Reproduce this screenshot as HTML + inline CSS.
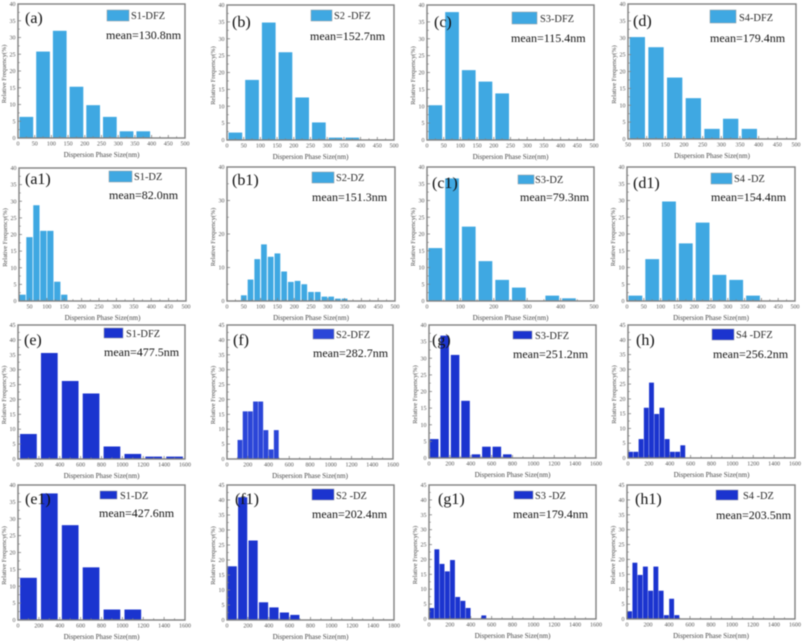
<!DOCTYPE html>
<html lang="en">
<head>
<meta charset="utf-8">
<title>Dispersion Phase Size Distributions</title>
<style>
html,body{margin:0;padding:0;background:#fff;}
#figure{display:block;width:802px;height:641px;filter:blur(0.5px);}
text{font-family:"Liberation Serif",serif;}
</style>
</head>
<body>
<svg id="figure" xmlns="http://www.w3.org/2000/svg" width="802" height="641" viewBox="0 0 802 641"></svg>
<script>
// ---- data: tick values ----
var ticks0to500 = [0,50,100,150,200,250,300,350,400,450,500];
var ticks50to500 = [50,100,150,200,250,300,350,400,450,500];
var ticksHundreds = [0,100,200,300,400,500];
var ticks0to1600 = [0,200,400,600,800,1000,1200,1400,1600];
var yTicks40by5 = [0,5,10,15,20,25,30,35,40];
var yTicks40by10 = [0,10,20,30,40];
var yTicks45by5 = [0,5,10,15,20,25,30,35,40,45];
var tickLabelsF1 = ["0","200","400","600","800","1000","1200","1400","1800"];

// ---- data: series values (relative frequency, %) ----
var valuesA = [6.3,25.8,32,15.3,9.8,6.3,2,2];
var valuesB = [2.2,17.8,34.8,26,12.6,5.2,0.7,0.7];
var valuesC = [10.3,37.9,20.7,17.3,13.8];
var valuesD = [30.2,27.2,18.2,12.1,3,6,3];
var valuesA1 = [1.9,19.2,28.8,21.1,21.1,5.8,1.9];
var valuesB1 = [1.7,6.4,12.5,16.9,13.2,14.2,8.8,5.7,6,5,2.7,2.7,1.3,1.3,0.7,0.7];
var valuesC1 = [15.8,36.6,22.2,11.9,6.3,4,0,1.6,0.8];
var valuesD1 = [1.6,12.5,29.7,17.2,23.4,7.8,6.3,1.6];
var valuesE = [8.4,35.6,26.2,22,4.2,1.7,0.8,0.8];
var valuesF = [6.4,16,16,19.3,19.3,9.7,3.2,9.7];
var valuesG = [5.7,36.8,31,17.2,1.1,3.4,3.4,1.1];
var valuesH = [2.1,2.1,6.4,17,25.5,14.9,17,6.4,2.1,2.1,4.3];
var valuesE1 = [12.5,37.5,28.1,15.6,3.1,3.1];
var valuesF1 = [17.9,40.9,26.5,5.9,4.2,2.5,1.7];
var valuesG1 = [3.7,23.4,18.5,16,19.8,7.4,6.1,3.7,0,0,1.2];
var valuesH1 = [2.6,18.9,14.8,17.6,9.5,17.6,9.5,1.3,6.8,1.3];

// ---- panel definitions ----
var LIGHT = "#3fa8e2", DARK = "#1b34cf";
var panels = [
 {id:"a",tag:"(a)",series:"S1-DFZ",mean:"mean=130.8nm",v:valuesA,start:0,bin:50,fill:.82,xMin:0,xMax:500,yMax:40,xT:ticks0to500,yT:yTicks40by5,c:LIGHT,
  f:[18,4,185,138],sw:[107,10,22,11],lx:131,ly:19,mx:106,my:39,tx:25,ty:23},
 {id:"b",tag:"(b)",series:"S2 -DFZ",mean:"mean=152.7nm",v:valuesB,start:0,bin:50,fill:.82,xMin:0,xMax:500,yMax:40,xT:ticks0to500,yT:yTicks40by5,c:LIGHT,
  f:[227,5,394,140],sw:[311,10,21,11],lx:334,ly:19,mx:310,my:40,tx:232,ty:27},
 {id:"c",tag:"(c)",series:"S3-DFZ",mean:"mean=115.4nm",v:valuesC,start:0,bin:50,fill:.82,xMin:0,xMax:500,yMax:40,xT:ticks0to500,yT:yTicks40by5,c:LIGHT,
  f:[427,5,594,140],sw:[512,12,25,12],lx:540,ly:22,mx:511,my:42,tx:434,ty:27},
 {id:"d",tag:"(d)",series:"S4-DFZ",mean:"mean=179.4nm",v:valuesD,start:50,bin:50,fill:.82,xMin:50,xMax:500,yMax:40,xT:ticks50to500,yT:yTicks40by5,c:LIGHT,
  f:[628,4,796,139],sw:[710,10,26,13],lx:739,ly:21,mx:710,my:42,tx:633,ty:26},
 {id:"a1",tag:"(a1)",series:"S1-DZ",mean:"mean=82.0nm",v:valuesA1,start:20,bin:20,fill:.9,xMin:20,xMax:500,yMax:40,xT:ticks50to500,yT:yTicks40by5,c:LIGHT,
  f:[19,168,186,301],sw:[109,171,23,11],lx:134,ly:180,mx:109,my:199,tx:25,ty:184},
 {id:"b1",tag:"(b1)",series:"S2-DZ",mean:"mean=151.3nm",v:valuesB1,start:40,bin:20,fill:.85,xMin:0,xMax:500,yMax:40,xT:ticks0to500,yT:yTicks40by10,c:LIGHT,
  f:[227,167,395,301],sw:[312,172,22,11],lx:336,ly:181,mx:312,my:201,tx:232,ty:185},
 {id:"c1",tag:"(c1)",series:"S3-DZ",mean:"mean=79.3nm",v:valuesC1,start:0,bin:50,fill:.82,xMin:0,xMax:500,yMax:40,xT:ticksHundreds,yT:yTicks40by5,c:LIGHT,
  f:[427,167,594,301],sw:[518,175,16,9],lx:535,ly:183,mx:520,my:201,tx:432,ty:188},
 {id:"d1",tag:"(d1)",series:"S4 -DZ",mean:"mean=154.4nm",v:valuesD1,start:0,bin:50,fill:.82,xMin:0,xMax:500,yMax:40,xT:ticks0to500,yT:yTicks40by5,c:LIGHT,
  f:[627,167,795,301],sw:[711,173,21,11],lx:734,ly:182,mx:711,my:201,tx:633,ty:188},
 {id:"e",tag:"(e)",series:"S1-DFZ",mean:"mean=477.5nm",v:valuesE,start:0,bin:200,fill:.8,xMin:0,xMax:1600,yMax:45,xT:ticks0to1600,yT:yTicks45by5,c:DARK,
  f:[18,325,185,459],sw:[104,328,19,10],lx:126,ly:337,mx:104,my:356,tx:24,ty:345},
 {id:"f",tag:"(f)",series:"S2-DFZ",mean:"mean=282.7nm",v:valuesF,start:100,bin:50,fill:.93,xMin:0,xMax:1600,yMax:45,xT:ticks0to1600,yT:yTicks45by5,c:"#2b46d8",
  f:[227,325,393,459],sw:[313,329,21,10],lx:336,ly:338,mx:313,my:357,tx:233,ty:345},
 {id:"g",tag:"(g)",series:"S3-DFZ",mean:"mean=251.2nm",v:valuesG,start:0,bin:100,fill:.82,xMin:0,xMax:1600,yMax:40,xT:ticks0to1600,yT:yTicks40by5,c:DARK,
  f:[429,325,596,458],sw:[513,331,19,8],lx:535,ly:339,mx:513,my:358,tx:432,ty:345},
 {id:"h",tag:"(h)",series:"S4 -DFZ",mean:"mean=256.2nm",v:valuesH,start:0,bin:50,fill:.93,xMin:0,xMax:1600,yMax:45,xT:ticks0to1600,yT:yTicks45by5,c:DARK,
  f:[628,325,795,458],sw:[712,329,22,11],lx:736,ly:338,mx:713,my:358,tx:636,ty:345},
 {id:"e1",tag:"(e1)",series:"S1-DZ",mean:"mean=427.6nm",v:valuesE1,start:0,bin:200,fill:.8,xMin:0,xMax:1600,yMax:40,xT:ticks0to1600,yT:yTicks40by5,c:DARK,
  f:[18,485,185,620],sw:[100,491,17,8],lx:120,ly:499,mx:99,my:517,tx:25,ty:504},
 {id:"f1",tag:"(f1)",series:"S2 -DZ",mean:"mean=202.4nm",v:valuesF1,start:0,bin:100,fill:.88,xMin:0,xMax:1600,yMax:45,xT:ticks0to1600,xL:tickLabelsF1,yT:yTicks45by5,c:DARK,
  f:[227,485,394,620],sw:[312,489,22,11],lx:336,ly:499,mx:312,my:518,tx:235,ty:504},
 {id:"g1",tag:"(g1)",series:"S3 -DZ",mean:"mean=179.4nm",v:valuesG1,start:0,bin:50,fill:.93,xMin:0,xMax:1600,yMax:45,xT:ticks0to1600,yT:yTicks45by5,c:DARK,
  f:[429,485,596,619],sw:[514,491,19,8],lx:535,ly:499,mx:513,my:518,tx:438,ty:504},
 {id:"h1",tag:"(h1)",series:"S4 -DZ",mean:"mean=203.5nm",v:valuesH1,start:0,bin:50,fill:.93,xMin:0,xMax:1600,yMax:45,xT:ticks0to1600,yT:yTicks45by5,c:DARK,
  f:[627,485,795,619],sw:[716,490,22,10],lx:743,ly:499,mx:716,my:519,tx:635,ty:504}
];

// ---- rendering ----
var NS = "http://www.w3.org/2000/svg";
var root = document.getElementById("figure");
function mk(tag, parent, attrs, txt){
  var el = document.createElementNS(NS, tag);
  for (var k in attrs) el.setAttribute(k, attrs[k]);
  if (txt !== undefined) el.textContent = txt;
  parent.appendChild(el);
  return el;
}
var AXIS = "#808080", TICKTXT = "#555", TITLETXT = "#444";

panels.forEach(function(p){
  var L = p.f[0], T = p.f[1], R = p.f[2], B = p.f[3];
  var sx = function(v){ return L + (v - p.xMin) / (p.xMax - p.xMin) * (R - L); };
  var sy = function(v){ return B - v / p.yMax * (B - T); };

  var g = mk("g", root, {});
  
  

  // bars
  p.v.forEach(function(val, i){
    var lo = p.start + i * p.bin;
    var w = (sx(lo + p.bin) - sx(lo));
    var bar = mk("rect", g, {x: sx(lo) + w * (1 - p.fill) / 2, y: sy(val), width: w * p.fill, height: sy(0) - sy(val), fill: p.c});
    
    
  });

  // frame
  var frame = mk("rect", g, {x: L, y: T, width: R - L, height: B - T, fill: "none", stroke: AXIS, "stroke-width": 1.4});
  
  

  // x ticks
  p.xT.forEach(function(v, i){
    var x = sx(v);
    mk("line", g, {x1: x, x2: x, y1: B, y2: B - 3, stroke: AXIS, "stroke-width": .8});
    if (i < p.xT.length - 1) {
      var m = sx((v + p.xT[i + 1]) / 2);
      mk("line", g, {x1: m, x2: m, y1: B, y2: B - 1.8, stroke: AXIS, "stroke-width": .7});
    }
    var xl = mk("text", g, {x: x, y: B + 7.5, "font-size": 6, "text-anchor": "middle", fill: TICKTXT}, p.xL ? p.xL[i] : String(v));
    
    
  });

  // y ticks
  p.yT.forEach(function(v, i){
    var y = sy(v);
    mk("line", g, {x1: L, x2: L + 3, y1: y, y2: y, stroke: AXIS, "stroke-width": .8});
    if (i < p.yT.length - 1) {
      var m = sy((v + p.yT[i + 1]) / 2);
      mk("line", g, {x1: L, x2: L + 1.8, y1: m, y2: m, stroke: AXIS, "stroke-width": .7});
    }
    var yl = mk("text", g, {x: L - 2.5, y: y + 2, "font-size": 6, "text-anchor": "end", fill: TICKTXT}, String(v));
    
    
  });

  // axis titles
  var xt = mk("text", g, {x: (L + R) / 2, y: B + 19, "font-size": 7, "text-anchor": "middle", fill: TITLETXT}, "Dispersion Phase Size(nm)");
  
  
  var ycy = (T + B) / 2 + 3, ycx = L - 12;
  var yt = mk("text", g, {x: ycx, y: ycy, "font-size": 6.3, "text-anchor": "middle", fill: TITLETXT, transform: "rotate(-90 " + ycx + " " + ycy + ")"}, "Relative Frequency(%)");
  
  

  // legend
  var sw = mk("rect", g, {x: p.sw[0], y: p.sw[1], width: p.sw[2], height: p.sw[3], fill: p.c, stroke: "#9a9a9a", "stroke-width": .5});
  
  
  var lt = mk("text", g, {x: p.lx, y: p.ly, "font-size": 10.4, fill: "#2a2a2a"}, p.series);
  
  
  var mt = mk("text", g, {x: p.mx, y: p.my, "font-size": 12, fill: "#111"}, p.mean);
  
  
  var tg = mk("text", g, {x: p.tx, y: p.ty, "font-size": 16, fill: "#111"}, p.tag);
  
  
});
</script>
</body>
</html>
